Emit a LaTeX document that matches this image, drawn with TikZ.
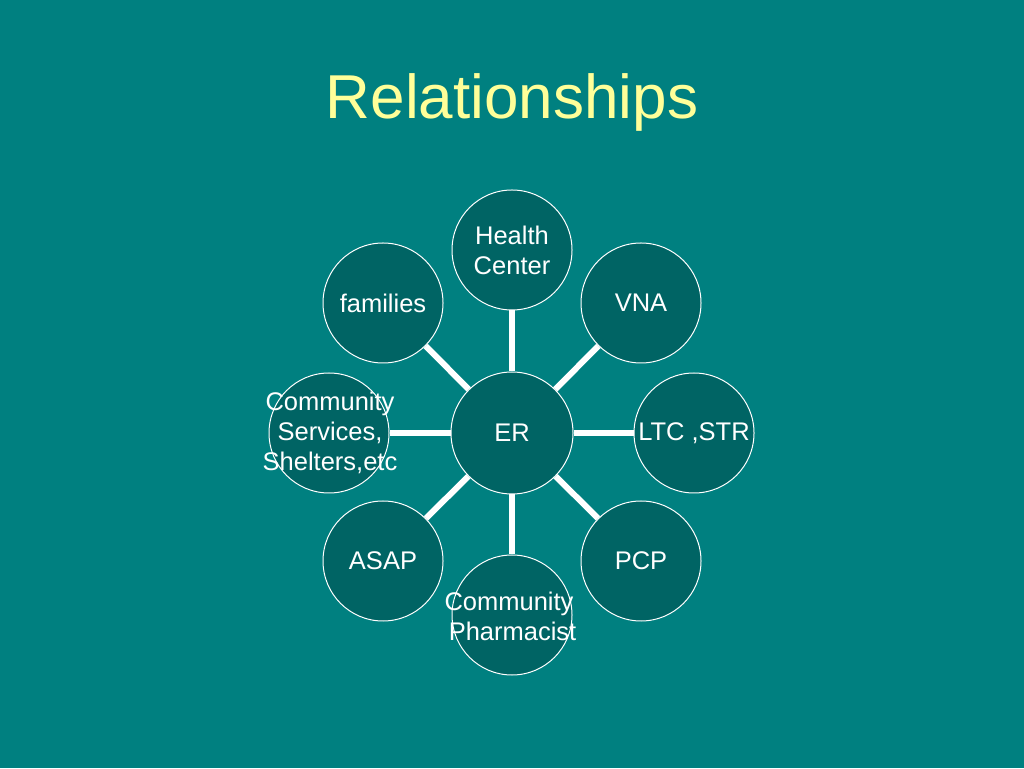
\documentclass[tikz,border=0pt]{standalone}
\usepackage{fontspec}
\setmainfont{Liberation Sans}
\definecolor{slideteal}{RGB}{0,128,128}
\definecolor{bubble}{RGB}{0,100,100}
\definecolor{titleyellow}{RGB}{255,255,153}

\begin{document}
\begin{tikzpicture}[x=1pt,y=1pt,
	hub/.style={circle,draw=white,line width=1pt,fill=bubble,minimum size=122pt,inner sep=0pt},
	spoke/.style={circle,draw=white,line width=1pt,fill=bubble,minimum size=120pt,inner sep=0pt},
	txt/.style={text=white,align=center,font=\fontsize{25.5}{30}\selectfont},
	link/.style={draw=white,line width=6pt}]
	\fill[slideteal] (0,0) rectangle (1024,768);
	\useasboundingbox (0,0) rectangle (1024,768);
	\node[text=titleyellow,font=\fontsize{62}{70}\selectfont] (title) at (512,666) {Relationships};
	
	\node[hub] (er) at (512,335) {};
	\node[spoke] (hc) at (512,518) {};
	\node[spoke] (vna) at (641,465) {};
	\node[spoke] (ltc) at (694,335) {};
	\node[spoke] (pcp) at (641,207) {};
	\node[spoke] (pharm) at (512,153) {};
	\node[spoke] (asap) at (383,207) {};
	\node[spoke] (serv) at (329,335) {};
	\node[spoke] (fam) at (383,465) {};
	
	\draw[link] (er) -- (hc);
	\draw[link] (er) -- (vna);
	\draw[link] (er) -- (ltc);
	\draw[link] (er) -- (pcp);
	\draw[link] (er) -- (pharm);
	\draw[link] (er) -- (asap);
	\draw[link] (er) -- (serv);
	\draw[link] (er) -- (fam);
	
	\node[txt] (erlabel) at (er) {ER};
	\node[txt] (hclabel) at (hc) {Health\\Center};
	\node[txt] (vnalabel) at (vna) {VNA};
	\node[txt] (ltclabel) at (ltc) {LTC ,STR};
	\node[txt] (pcplabel) at (pcp) {PCP};
	\node[txt] (pharmlabel) at (509,152) {Community\\\ Pharmacist};
	\node[txt] (asaplabel) at (asap) {ASAP};
	\node[txt] (servlabel) at (330,335) {Community\\Services,\\Shelters,etc};
	\node[txt] (famlabel) at (fam) {families};
\end{tikzpicture}
\end{document}
